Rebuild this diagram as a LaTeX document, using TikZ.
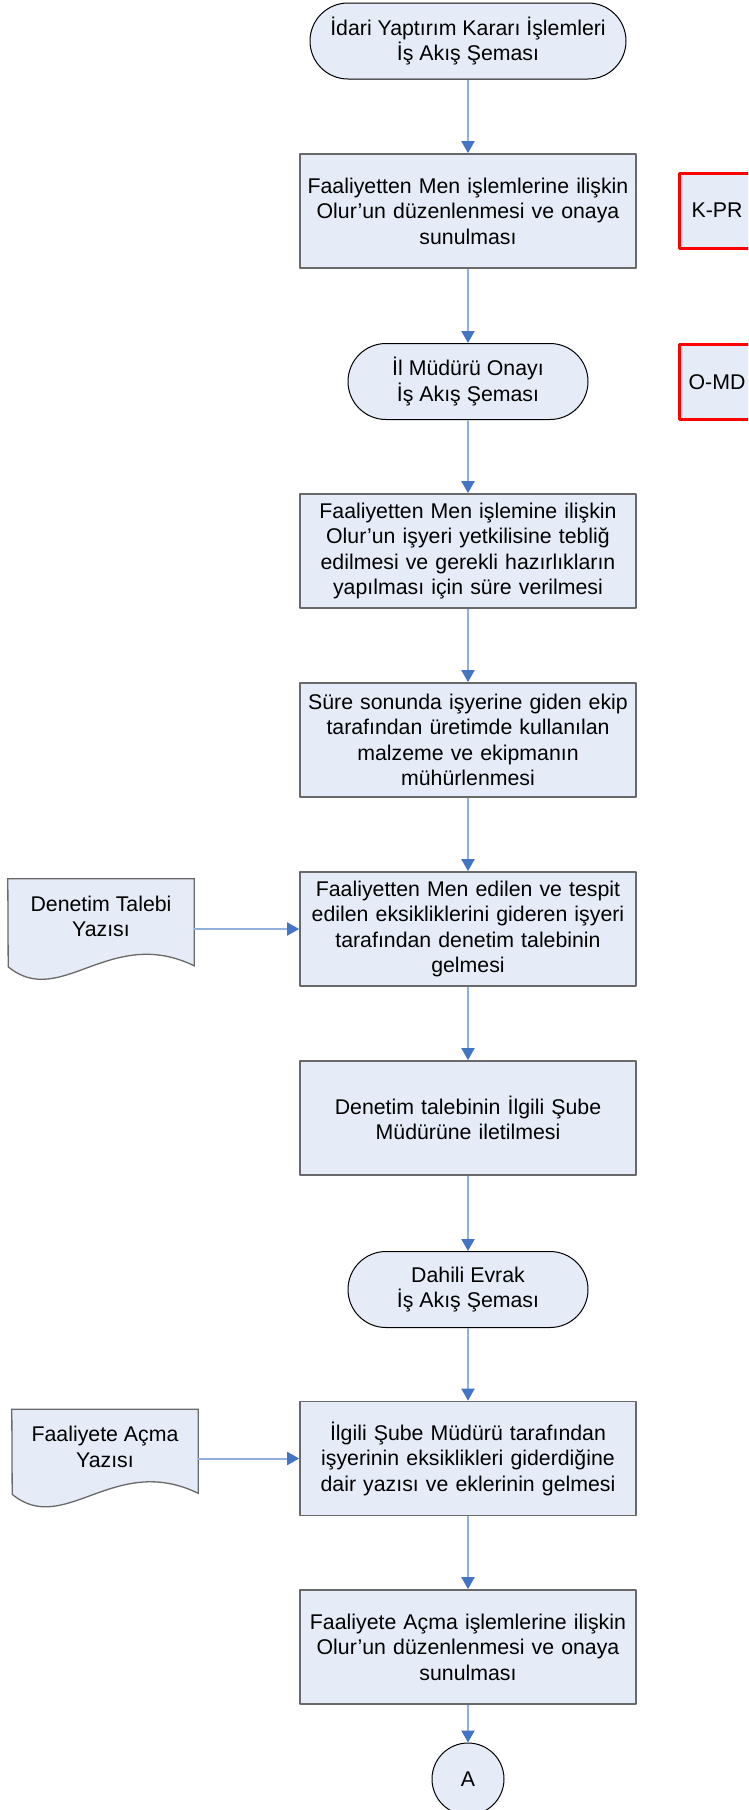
\documentclass[tikz,border=0pt]{standalone}
\usepackage{fontspec}
\setmainfont{Liberation Sans}
\usetikzlibrary{arrows.meta,backgrounds}
\definecolor{boxfill}{RGB}{230,236,247}
\definecolor{boxline}{RGB}{105,105,105}
\definecolor{flowline}{RGB}{145,176,222}
\definecolor{flowhead}{RGB}{68,116,196}
\begin{document}
\begin{tikzpicture}[x=1pt, y=-1pt, font=\fontsize{21.3}{25.5}\selectfont, line join=round,
		box/.style={draw=boxline, line width=1.7pt, fill=boxfill, minimum width=336pt, minimum height=114pt, text width=334pt, align=center, inner sep=0pt},
		term/.style={draw=black, line width=1pt, fill=boxfill, rounded corners=38pt, minimum height=76pt, align=center, inner sep=0pt},
		refbox/.style={draw=red, line width=3pt, fill=boxfill, minimum width=76pt, minimum height=75pt, inner sep=0pt},
		doctext/.style={minimum width=186pt, minimum height=75pt, align=center, inner sep=0pt},
		docshape/.style={draw=boxline, line width=1.3pt, fill=boxfill},
		conn/.style={circle, draw=black, line width=1pt, fill=boxfill, minimum size=72pt, inner sep=0pt},
		flow/.style={draw=flowline, line width=2pt, -{Triangle[width=13pt, length=12pt, color=flowhead]}}]
	\def\cx{468}
	\useasboundingbox (0,0) rectangle (748,1810);
	\clip (0,0) rectangle (748,1810);
	\node[term, minimum width=316pt] (t1) at (\cx,41) {İdari Yaptırım Kararı İşlemleri\\İş Akış Şeması};
	\node[box] (b2) at (\cx,211) {Faaliyetten Men işlemlerine ilişkin\\Olur’un düzenlenmesi ve onaya\\sunulması};
	\node[refbox] (kpr) at (717,210.5) {K-PR};
	\node[term, minimum width=240pt] (t2) at (\cx,381.5) {İl Müdürü Onayı\\İş Akış Şeması};
	\node[refbox] (omd) at (717,382) {O-MD};
	\node[box] (b3) at (\cx,551) {Faaliyetten Men işlemine ilişkin\\Olur’un işyeri yetkilisine tebliğ\\edilmesi ve gerekli hazırlıkların\\yapılması için süre verilmesi};
	\node[box] (b4) at (\cx,740) {Süre sonunda işyerine giden ekip\\tarafından üretimde kullanılan\\malzeme ve ekipmanın\\mühürlenmesi};
	\node[box] (b5) at (\cx,929) {Faaliyetten Men edilen ve tespit\\edilen eksikliklerini gideren işyeri\\tarafından denetim talebinin\\gelmesi};
	\node[doctext] (doc1) at (101,916.5) {Denetim Talebi\\Yazısı};
	\node[box] (b6) at (\cx,1118) {Denetim talebinin İlgili Şube\\Müdürüne iletilmesi};
	\node[term, minimum width=240pt] (t3) at (\cx,1289.5) {Dahili Evrak\\İş Akış Şeması};
	\node[box] (b7) at (\cx,1458.5) {İlgili Şube Müdürü tarafından\\işyerinin eksiklikleri giderdiğine\\dair yazısı ve eklerinin gelmesi};
	\node[doctext] (doc2) at (105,1447) {Faaliyete Açma\\Yazısı};
	\node[box] (b8) at (\cx,1647) {Faaliyete Açma işlemlerine ilişkin\\Olur’un düzenlenmesi ve onaya\\sunulması};
	\node[conn] (A) at (\cx,1779) {A};
	\foreach \a/\b in {t1/b2,b2/t2,t2/b3,b3/b4,b4/b5,b5/b6,b6/t3,t3/b7,b7/b8,b8/A}
		\draw[flow] (\a) -- (\b);
	\draw[flow] (doc1.east |- b5.west) -- (b5.west);
	\draw[flow] (doc2.east |- b7.west) -- (b7.west);
	\begin{scope}[on background layer]
		\foreach \d/\h in {doc1/87,doc2/84}
			\draw[docshape] (\d.north west) -- (\d.north east) -- ++(0,\h) .. controls +(-84,-41) and +(52,43) .. ++(-186,1) -- cycle;
	\end{scope}
\end{tikzpicture}
\end{document}
